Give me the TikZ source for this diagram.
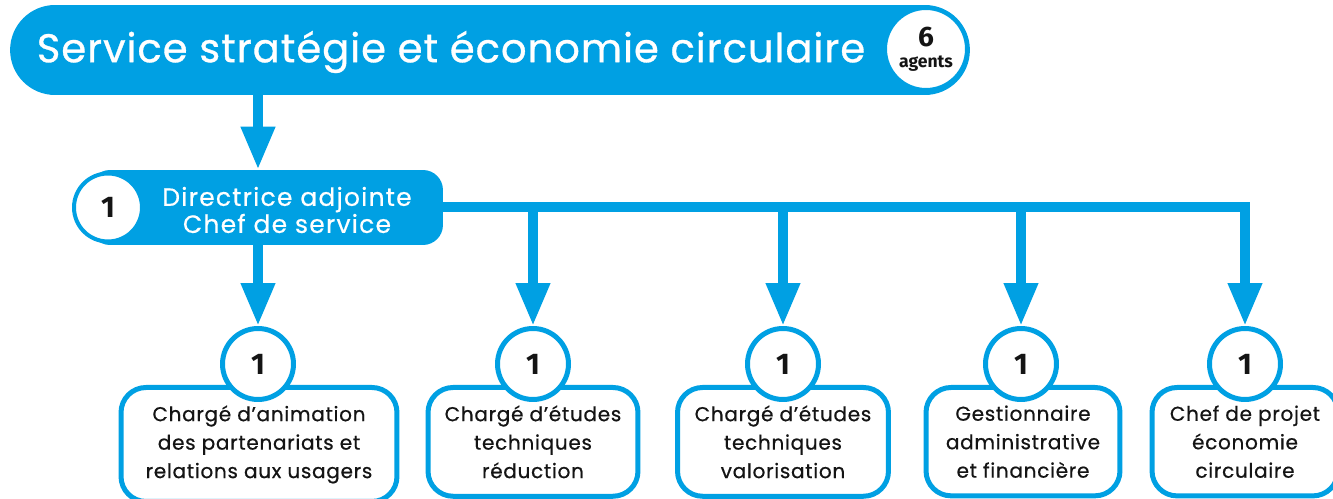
\documentclass[tikz,border=0pt]{standalone}
\usepackage{fontspec}
\setmainfont{Poppins}[LetterSpace=3.5,FakeBold=0.6]
\newfontfamily\numfont{Fira Sans}
\newfontfamily\titrefont{Poppins}[LetterSpace=2.5,FakeBold=0.8]
\usetikzlibrary{arrows.meta}
\definecolor{bleu}{RGB}{0,160,227}
\definecolor{noir}{RGB}{20,20,20}

\begin{document}
\begin{tikzpicture}[x=0.02cm,y=-0.02cm,
  conn/.style={draw=bleu, line width=0.2cm, -{Triangle[width=0.64cm,length=0.86cm]}},
  nombre/.style={circle, draw=bleu, fill=white, line width=0.1cm, minimum size=1.42cm, inner sep=0pt, font=\numfont\bfseries\fontsize{17}{17}\selectfont, text=noir},
  poste/.style={draw=bleu, fill=white, line width=0.1cm, rounded corners=0.5cm, anchor=north, align=center, inner ysep=0.36cm, inner xsep=0pt, font=\fontsize{11.4}{16.2}\selectfont, text=noir}]
\useasboundingbox (0,0) rectangle (1333,499);
\clip (0,0) rectangle (1333,499);
\node[fill=bleu, rounded corners=0.9cm, minimum width=19.2cm, minimum height=1.8cm, inner sep=0pt] (svc) at (490,50) {};
\node[text=white, font=\titrefont\fontsize{22.8}{24}\selectfont] (titre) at (451,52) {Service stratégie et économie circulaire};
\node[circle, draw=bleu, fill=white, line width=0.08cm, minimum size=1.64cm, inner sep=0pt, align=center, text=noir] (agents) at (926,49)
  {{\numfont\bfseries\fontsize{16}{16}\selectfont 6}\\[0pt]{\numfont\bfseries\fontsize{10}{10}\selectfont agents}};
\node[fill=bleu, rounded corners=0.4cm, minimum width=7.06cm, minimum height=1.5cm, inner sep=0pt] (dir) at (266.5,207.5) {};
\node[text=white, align=center, font=\fontsize{14.2}{15.4}\selectfont\addfontfeature{LetterSpace=5}] (dirtxt) at (287,210) {Directrice adjointe\\Chef de service};
\node[nombre, minimum size=1.36cm, line width=0.08cm] (dirnb) at (108,207.5) {1};
\node[poste, minimum width=5.52cm] (b1) at (259,385) {Chargé d’animation\\des partenariats et\\relations aux usagers};
\node[poste, minimum width=4.2cm] (b2) at (533,385) {Chargé d’études\\techniques\\réduction};
\node[poste, minimum width=4.22cm] (b3) at (783,385) {Chargé d’études\\techniques\\valorisation};
\node[poste, minimum width=3.88cm] (b4) at (1023,385) {Gestionnaire\\administrative\\et financière};
\node[poste, minimum width=3.72cm] (b5) at (1245,385) {Chef de projet\\économie\\circulaire};
\node[nombre] (n1) at (258,364) {1};
\node[nombre] (n2) at (533,364) {1};
\node[nombre] (n3) at (783,364) {1};
\node[nombre] (n4) at (1021,364) {1};
\node[nombre] (n5) at (1245,364) {1};
\draw[conn] (svc.south -| n1) -- (n1 |- dir.north);
\draw[conn] (dir.south -| n1) -- (n1.north);
\draw[conn] (dir.east) -| (n5.north);
\foreach \n in {n2,n3,n4}
  \draw[conn] (dir.east -| \n) -- (\n.north);
\end{tikzpicture}
\end{document}
